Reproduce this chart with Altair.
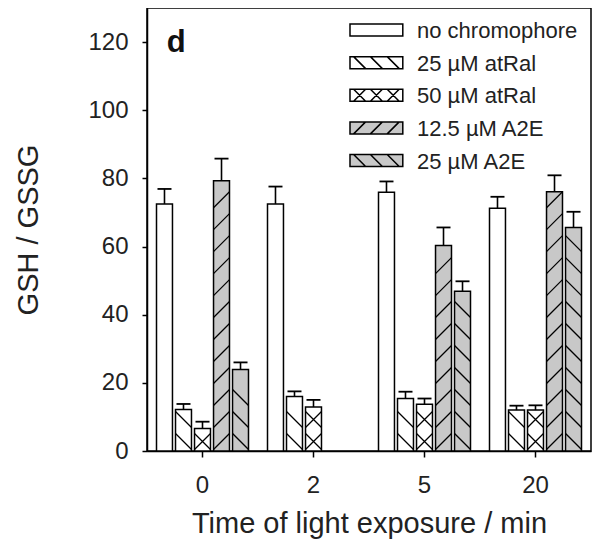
import altair as alt
import pandas as pd

times = ["0", "2", "5", "20"]
series = ["no chromophore", "25 µM atRal", "50 µM atRal", "12.5 µM A2E", "25 µM A2E"]

no_chromophore = [72.5, 72.5, 75.9, 71.2]
atral_25 = [12.2, 16.0, 15.4, 12.0]
atral_50 = [6.6, 12.9, 13.7, 12.0]
a2e_12_5 = [79.3, None, 60.3, 76.1]
a2e_25 = [23.9, None, 46.9, 65.6]

err_no_chromophore = [4.4, 5.1, 3.2, 3.4]
err_atral_25 = [1.6, 1.5, 2.0, 1.3]
err_atral_50 = [2.0, 2.1, 1.7, 1.4]
err_a2e_12_5 = [6.5, None, 5.3, 4.8]
err_a2e_25 = [2.1, None, 2.9, 4.6]

fills = ["#ffffff", "#ffffff", "#ffffff", "#c8c8c8", "#c8c8c8"]

vals = [no_chromophore, atral_25, atral_50, a2e_12_5, a2e_25]
errs = [err_no_chromophore, err_atral_25, err_atral_50, err_a2e_12_5, err_a2e_25]

rows = []
for s, vs, es in zip(series, vals, errs):
    for t, v, e in zip(times, vs, es):
        if v is not None:
            rows.append({"time": t, "series": s, "value": v, "err": e})
df = pd.DataFrame(rows)
legend_df = pd.DataFrame({"series": series})

# hatch glyphs (unit square paths)
BACK = "M-1,-1L1,1"
FWD = "M-1,1L1,-1"
CROSS = "M-1,-1L1,1M-1,1L1,-1"
CAP = "M-1,0L1,0"

RECT = "M-2.2,-0.5H2.2V0.5H-2.2Z"
L_BACK = "M-1.9,-0.5L-0.9,0.5M-0.5,-0.5L0.5,0.5M0.9,-0.5L1.9,0.5"
L_FWD = "M-1.9,0.5L-0.9,-0.5M-0.5,0.5L0.5,-0.5M0.9,0.5L1.9,-0.5"
legend_paths = [RECT, RECT + L_BACK, RECT + L_BACK + L_FWD, RECT + L_FWD, RECT + L_BACK]

FONT = "Liberation Sans"

x_axis = alt.Axis(title="Time of light exposure / min", labelAngle=0, labelFontSize=24,
                  titleFontSize=29, labelPadding=16, tickSize=6, titleY=81,
                  titleBaseline="alphabetic", titleFontWeight="normal")
y_axis = alt.Axis(title="GSH / GSSG", values=[0, 20, 40, 60, 80, 100, 120], labelFontSize=24,
                  titleFontSize=29, labelPadding=14, tickSize=5, grid=False,
                  titleX=-110, titleY=221.5, titleAngle=270, titleBaseline="alphabetic",
                  titleAlign="center", titleFontWeight="normal")


def xenc():
    return alt.X("time:N", sort=times,
                 scale=alt.Scale(domain=times, paddingInner=0, paddingOuter=0), axis=x_axis)


def xoff():
    return alt.XOffset("series:N",
                       scale=alt.Scale(domain=series, paddingInner=0.16, paddingOuter=0.5))


def yenc(field):
    return alt.Y(field, scale=alt.Scale(domain=[0, 130]), axis=y_axis, title="GSH / GSSG")


fill_enc = alt.Fill("series:N", scale=alt.Scale(domain=series, range=fills), legend=None)

base = alt.Chart(df)

bars = base.mark_bar(stroke="black", strokeWidth=1.5).encode(
    x=xenc(), xOffset=xoff(), y=yenc("value:Q"), fill=fill_enc
)


def hatch(names, path):
    return (
        base.transform_filter(alt.FieldOneOfPredicate(field="series", oneOf=names))
        .transform_calculate(hy="sequence(2.8, datum.value - 2.3, 6.45)")
        .transform_flatten(["hy"])
        .mark_point(shape=path, size=256, filled=False, stroke="black",
                    strokeWidth=1.3, opacity=1)
        .encode(x=xenc(), xOffset=xoff(), y=yenc("hy:Q"))
    )


h_back = hatch(["25 µM atRal", "25 µM A2E"], BACK)
h_fwd = hatch(["12.5 µM A2E"], FWD)
h_cross = hatch(["50 µM atRal"], CROSS)

err_base = base.transform_calculate(hi="datum.value + datum.err")
stems = err_base.mark_rule(stroke="black", strokeWidth=1.6).encode(
    x=xenc(), xOffset=xoff(), y=yenc("value:Q"), y2="hi:Q"
)
caps = err_base.mark_point(shape=CAP, size=196, filled=False, stroke="black",
                           strokeWidth=1.8, opacity=1).encode(
    x=xenc(), xOffset=xoff(), y=yenc("hi:Q")
)

panel_label = alt.Chart(pd.DataFrame({"t": ["d"]})).mark_text(
    fontWeight="bold", fontSize=31, align="left", baseline="alphabetic", font=FONT, color="#111111"
).encode(text="t:N", x=alt.value(19.7), y=alt.value(43.7))

main = alt.layer(bars, h_back, h_fwd, h_cross, stems, caps, panel_label)

# hand-built legend (rows on their own point scale)
leg_y = alt.Y("series:N", sort=series,
              scale=alt.Scale(type="point", domain=series, range=[22, 152.5], padding=0),
              axis=None)
leg_base = alt.Chart(legend_df)
leg_symbols = leg_base.mark_point(filled=True, stroke="black", strokeWidth=1.5,
                                  opacity=1, size=576).encode(
    x=alt.value(229.4), y=leg_y, fill=fill_enc,
    shape=alt.Shape("series:N", scale=alt.Scale(domain=series, range=legend_paths), legend=None),
)
leg_text = leg_base.mark_text(align="left", baseline="middle", fontSize=22, font=FONT,
                              color="#222222", dy=1).encode(
    x=alt.value(270), y=leg_y, text="series:N"
)
legend = alt.layer(leg_symbols, leg_text)

chart = (
    alt.layer(main, legend)
    .resolve_scale(y="independent")
    .properties(width=444, height=443, autosize="none",
                padding={"left": 139, "top": 0, "right": 1, "bottom": 90})
    .configure(font=FONT)
    .configure_view(stroke="black", strokeWidth=1.5)
    .configure_axis(domainColor="black", domainWidth=1.5, tickColor="black", tickWidth=1.5,
                    labelColor="#222222", titleColor="#222222", labelFont=FONT, titleFont=FONT)
)

chart.save("out.html", embed_options={"renderer": "svg", "actions": False})
